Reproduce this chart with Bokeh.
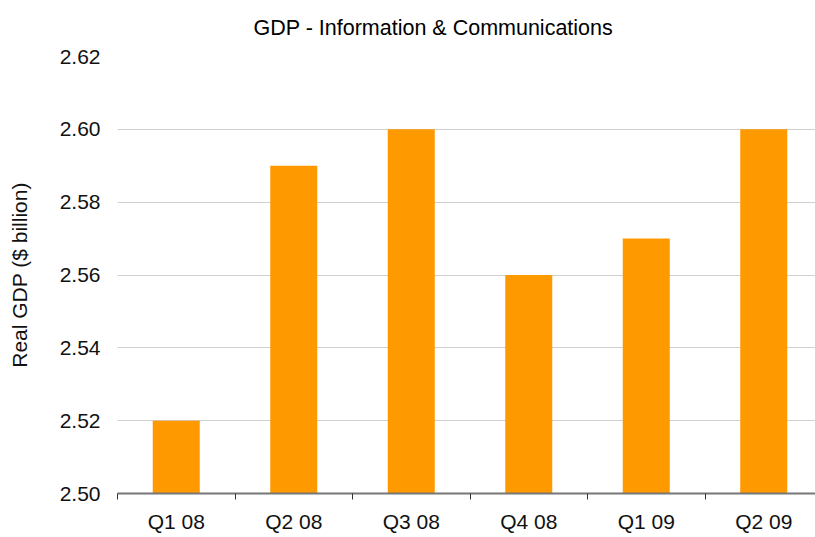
from bokeh.plotting import figure
from bokeh.models import Range1d, FixedTicker, NumeralTickFormatter, Title
from bokeh.embed import file_html
from bokeh.resources import INLINE

# ---- data ----
categories = ["Q1 08", "Q2 08", "Q3 08", "Q4 08", "Q1 09", "Q2 09"]
gdp_values = [2.52, 2.59, 2.60, 2.56, 2.57, 2.60]
y_ticks = [2.50, 2.52, 2.54, 2.56, 2.58, 2.60, 2.62]
title_text = "GDP - Information & Communications"
y_label = "Real GDP ($ billion)"

FONT = "Liberation Sans"
ORANGE = "#FF9900"

positions = list(range(1, len(categories) + 1))

p = figure(
    width=815, height=537,
    output_backend="svg", toolbar_location=None,
    x_range=Range1d(0.5, 0.5 + 698 / 117.5),
    y_range=Range1d(y_ticks[0], y_ticks[-1]),
    min_border_left=117, min_border_right=0, min_border_top=0, min_border_bottom=44,
)
p.outline_line_color = None
p.background_fill_color = "white"
p.border_fill_color = "white"

p.vbar(x=positions, top=gdp_values, bottom=y_ticks[0], width=0.4,
       fill_color=ORANGE, line_color=None)

# title
p.title = Title(text=title_text, align="left", offset=136, vertical_align="top",
                text_font=FONT, text_font_size="21.5px", text_font_style="normal",
                text_color="#000000", standoff=30)

# x axis
xa = p.xaxis[0]
xa.ticker = FixedTicker(ticks=positions, minor_ticks=[i + 0.5 for i in range(len(categories) + 1)])
xa.major_label_overrides = {pos: cat for pos, cat in zip(positions, categories)}
xa.major_tick_line_color = None
xa.major_tick_in = 0
xa.major_tick_out = 0
xa.minor_tick_in = 0
xa.minor_tick_out = 6
xa.minor_tick_line_color = "#333333"
xa.minor_tick_line_width = 1
xa.axis_line_color = "#777777"
xa.axis_line_width = 2
xa.major_label_standoff = 10
xa.major_label_text_font = FONT
xa.major_label_text_font_size = "21px"
xa.major_label_text_color = "#111111"

# y axis
ya = p.yaxis[0]
ya.ticker = FixedTicker(ticks=y_ticks, minor_ticks=[])
ya.formatter = NumeralTickFormatter(format="0.00")
ya.axis_line_color = None
ya.major_tick_line_color = None
ya.minor_tick_line_color = None
ya.major_tick_in = 0
ya.major_tick_out = 0
ya.major_label_standoff = 17
ya.major_label_text_font = FONT
ya.major_label_text_font_size = "21px"
ya.major_label_text_color = "#111111"
ya.axis_label = y_label
ya.axis_label_text_font = FONT
ya.axis_label_text_font_size = "21px"
ya.axis_label_text_font_style = "normal"
ya.axis_label_text_color = "#111111"
ya.axis_label_standoff = 26

p.xgrid.grid_line_color = None
p.ygrid.grid_line_color = "#D0D0D0"
p.ygrid.grid_line_width = 1

open("out.html", "w").write(file_html(p, INLINE))
